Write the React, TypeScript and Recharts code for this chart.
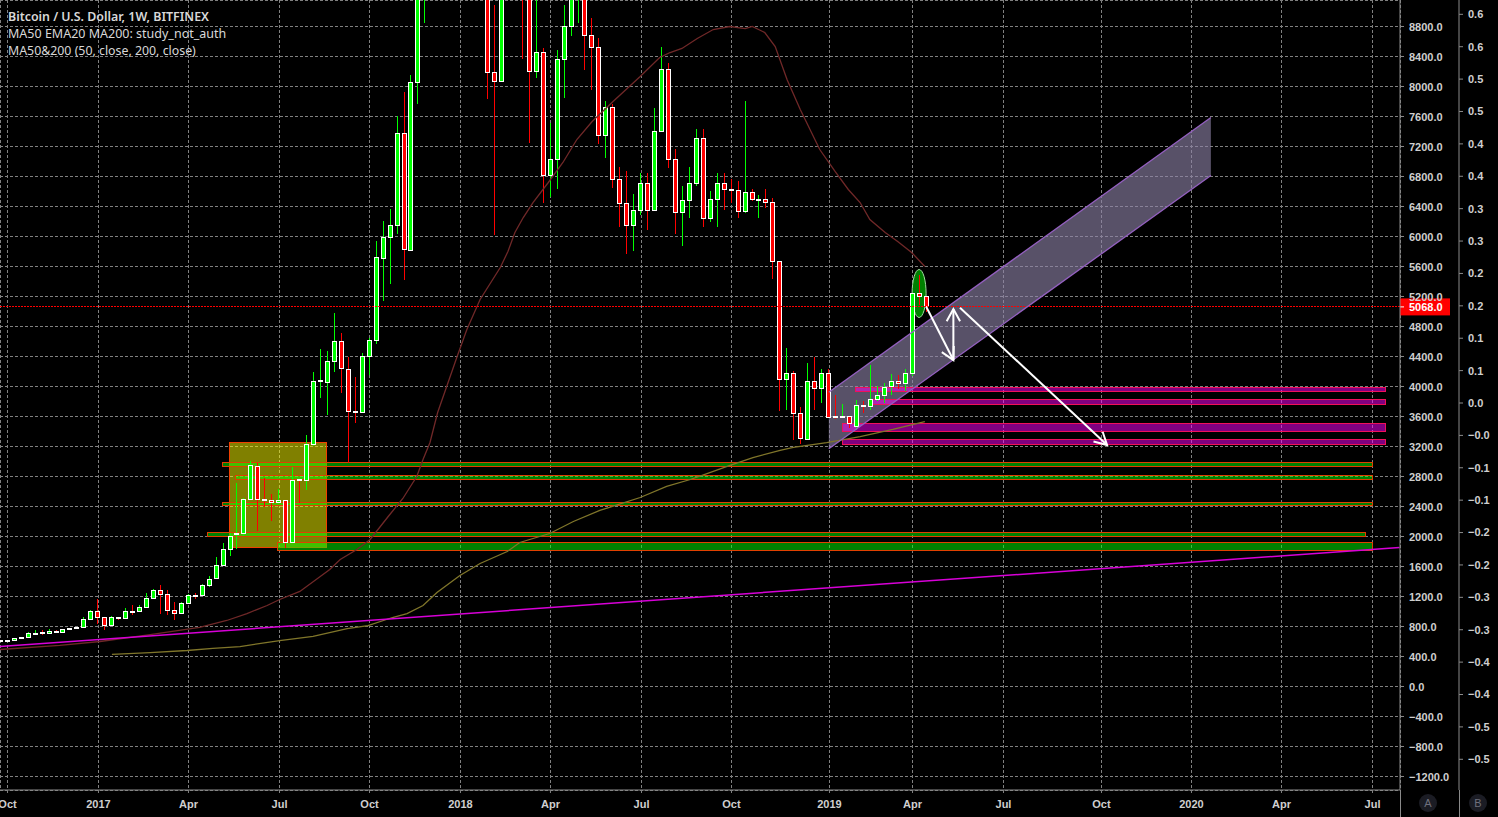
import * as React from "react"
import {
  Area,
  Bar,
  CartesianGrid,
  ComposedChart,
  Line,
  ReferenceArea,
  ReferenceLine,
  XAxis,
  YAxis,
} from "recharts"

// weekly candles, week 0 is the first week of 2017
const firstWeek = -14
const opens = [
  610, 615, 625, 650, 658, 716, 720, 711, 740, 724, 775, 790, 791, 898,
  1009, 929, 818, 925, 911, 1012, 1004, 1058, 1178, 1289, 1231, 1022, 978, 1111, 1224, 1218,
  1351, 1444, 1618, 1831, 2036, 2040, 2498, 2938, 2502, 2489, 2458, 2489, 1920, 2760, 2756, 3236,
  4076, 4062, 4342, 4609, 4236, 3672, 3662, 4409, 4622, 5716, 5996, 6151, 7382, 5818, 8058, 9800,
  11600, 15200, 19000, 14000, 16000, 13800, 14000, 13000, 11000, 8196, 8071, 10200, 11100, 10200,
  9500, 8204, 8462, 6818, 7036, 8369, 8809, 9300, 9700, 8689, 8529, 7351, 7729, 6769, 6449, 6151,
  6356, 6716, 6356, 7404, 8236, 7031, 6329, 6489, 6716, 7316, 6249, 6502, 6716, 6631, 6618, 6342,
  6596, 6498, 6502, 6462, 5676, 4098, 4182, 3649, 3302, 4076, 3978, 4182, 3600, 3600, 3605, 3476,
  3751, 3738, 3836, 3885, 4005, 4076, 4040, 4182, 5249, 5209,
]
const highs = [
  615, 622, 650, 662, 733, 755, 755, 773, 755, 769, 782, 795, 929, 1015,
  1173, 929, 935, 933, 1049, 1093, 1080, 1240, 1302, 1347, 1280, 1129, 1129, 1236, 1249, 1369,
  1467, 1720, 1916, 2050, 2707, 2515, 3009, 2980, 2782, 2569, 2636, 2492, 2929, 2765, 3347, 4196,
  4502, 4476, 4982, 4707, 4396, 4129, 4440, 4640, 5934, 6213, 6360, 7613, 7920, 8147, 9900, 11900,
  15800, 19800, 19600, 17200, 17300, 15500, 14700, 13200, 11300, 9093, 10400, 11400, 11800, 11100,
  9800, 9400, 8516, 7516, 8480, 9080, 9500, 9900, 9950, 8907, 8653, 7800, 7773, 6920, 6867, 6560,
  6849, 6840, 7707, 8520, 8316, 7169, 6667, 6920, 7436, 7427, 6613, 6849, 6840, 6760, 6742, 7800,
  6636, 6547, 6627, 6516, 5676, 4507, 4200, 3720, 4307, 4396, 4227, 4227, 3893, 3760, 3605, 3818,
  3800, 4293, 4000, 4049, 4173, 4156, 4227, 5249, 5493, 5209,
]
const lows = [
  608, 612, 622, 648, 655, 693, 693, 705, 735, 724, 772, 785, 785, 898,
  827, 747, 815, 893, 905, 947, 991, 1050, 1175, 973, 947, 893, 975, 1108, 1173, 1215,
  1333, 1440, 1618, 1738, 1827, 2013, 2495, 2067, 2396, 2213, 2455, 1849, 1915, 2449, 2618, 3204,
  3844, 3618, 4191, 3916, 2982, 3516, 3655, 4147, 4560, 5138, 5373, 6027, 5414, 5805, 7773, 8840,
  11000, 14500, 13100, 12500, 12800, 12800, 10000, 9300, 7827, 6018, 8071, 9600, 9700, 8360,
  7249, 8107, 6440, 6525, 6627, 7840, 8671, 8849, 8218, 7951, 7227, 7053, 6640, 6120, 5773, 5805,
  6293, 6093, 6356, 7391, 6907, 6027, 5871, 6244, 6671, 6133, 6191, 6124, 6351, 6449, 6244, 6307,
  6471, 6253, 6378, 5436, 3671, 3693, 3293, 3227, 3302, 3693, 3782, 3591, 3560, 3598, 3444, 3418,
  3640, 3693, 3800, 3782, 3880, 3960, 3942, 4138, 5090, 4991,
]
const closes = [
  615, 618, 645, 660, 716, 718, 716, 742, 738, 769, 778, 793, 902, 1009,
  924, 818, 929, 920, 1009, 1005, 1062, 1182, 1289, 1231, 1018, 978, 1116, 1222, 1218, 1356,
  1436, 1622, 1836, 2004, 2049, 2502, 2956, 2498, 2489, 2458, 2489, 1920, 2756, 2750, 3236, 4076,
  4082, 4342, 4609, 4249, 3676, 3660, 4404, 4618, 5729, 5996, 6151, 7382, 5827, 8058, 9800, 11600,
  15200, 19000, 14000, 16000, 13800, 14000, 13000, 11000, 8196, 8071, 10200, 11100, 10200, 9500,
  8204, 8462, 6818, 7036, 8369, 8809, 9300, 9700, 8684, 8524, 7351, 7729, 6764, 6444, 6151, 6356,
  6716, 6356, 7409, 8236, 7031, 6329, 6489, 6716, 7316, 6249, 6502, 6716, 6636, 6620, 6342, 6591,
  6502, 6502, 6462, 5671, 4098, 4182, 3649, 3316, 4076, 3978, 4182, 3591, 3598, 3605, 3516, 3756,
  3750, 3836, 3889, 3987, 4076, 4044, 4182, 5249, 5209, 5071,
]

const ma50Weeks = [
  -14, -5.4, 0.4, 7.6, 14.7, 18.6, 21.5, 24.4, 26.2, 29.1, 33.4, 34.9, 37.3, 39.2, 41.8, 43.9, 45.9, 46.8, 47.8, 48.9,
  50.4, 51.7, 53.1, 55, 57.9, 59, 60, 61.2, 62.6, 64.8, 66.9, 68.9, 71.1, 74.1, 78, 80.8, 82.3, 84, 86.2, 88.5,
  90.9, 93.1, 94.1, 95.9, 97.4, 99.1, 101, 103.8, 106, 107.9, 109.6, 111, 113.2, 115, 117, 118.9,
]
const ma50Values = [
  493, 547, 600, 693, 787, 880, 973, 1080, 1160, 1267, 1560, 1693, 1827, 1960, 2267, 2507, 2800, 3027, 3253, 3653,
  4053, 4400, 4760, 5160, 5587, 5800, 6053, 6253, 6453, 6720, 6987, 7293, 7533, 7800, 8133, 8387, 8453, 8507, 8640, 8760,
  8800, 8773, 8800, 8720, 8533, 8093, 7693, 7160, 6867, 6627, 6453, 6227, 6053, 5933, 5787, 5600,
]
const ma200Weeks = [
  2.1, 7.6, 12.9, 16.6, 20.5, 26.2, 31, 35.9, 38.9, 42.4, 44.5, 46.8, 48.8, 52.1, 55, 58.9,
  60.7, 65, 68.4, 72.2, 78, 81.8, 85.2, 88, 90.9, 94.2, 98.1, 100, 104.8, 109.6, 114.3, 118.9,
]
const ma200Values = [
  427, 453, 480, 507, 533, 613, 667, 773, 813, 920, 973, 1080, 1253, 1480, 1640, 1800,
  1920, 2040, 2200, 2347, 2520, 2667, 2760, 2853, 2947, 3053, 3147, 3187, 3253, 3333, 3427, 3533,
]

const trendWeeks = [-13.98, 187.1]
const trendValues = [533, 1853]

const channelWeeks = [105.1, 160]
const channelHigh = [3924, 7587]
const channelLow = [3169, 6813]

const yellowBox = { from: 18.97, to: 32.96, top: 3256, bottom: 1856 }
const greenFrom = [17.92, 19.9, 17.92, 15.9, 25.95]
const greenTo = [183.15, 183.15, 183.15, 182.15, 183.15]
const greenTop = [2980, 2816, 2447, 2056, 1923]
const greenBottom = [2931, 2763, 2407, 2003, 1816]
const purpleFrom = [109, 111, 107, 107]
const purpleTop = [3989, 3829, 3509, 3296]
const purpleBottom = [3927, 3757, 3403, 3224]
const purpleEnd = 185.1

const arrowFromWeek = [119.1, 123, 123.95]
const arrowFromPrice = [5064, 4353, 5051]
const arrowToWeek = [123, 123, 145.08]
const arrowToPrice = [4353, 5033, 3220]

// the ellipse drawn around the last candles
const ellipseWeek = 118
const ellipseTop = 5560
const ellipseBottom = 4920
const lastPrice = 5068

const timeTicks = [
  -12.9, 0.17, 13.1, 26.18, 39.11, 52.18, 65.11, 78.19, 91.12, 105.2, 117.13, 130.2, 144.28, 157.21, 170.14, 183.22,
]
const timeLabels = ["Oct", "2017", "Apr", "Jul", "Oct", "2018", "Apr", "Jul", "Oct", "2019", "Apr", "Jul", "Oct", "2020", "Apr", "Jul"]
const priceTicks = [
  -1200, -800, -400, 0, 400, 800, 1200, 1600, 2000, 2400, 2800, 3200, 3600, 4000, 4400, 4800, 5200, 5600, 6000, 6400,
  6800, 7200, 7600, 8000, 8400, 8800,
]
const ratioTicks = [
  0.6, 0.55, 0.5, 0.45, 0.4, 0.35, 0.3, 0.25, 0.2, 0.15, 0.1, 0.05, 0, -0.05, -0.1, -0.15, -0.2, -0.25, -0.3, -0.35, -0.4,
  -0.45, -0.5, -0.55,
]
const ratioLabels = [
  "0.6", "0.6", "0.5", "0.5", "0.4", "0.4", "0.3", "0.3", "0.2", "0.2", "0.1", "0.1", "0.0", "−0.0", "−0.1", "−0.1", "−0.2",
  "−0.2", "−0.3", "−0.3", "−0.4", "−0.4", "−0.5", "−0.5",
]
const titleLines = ["Bitcoin / U.S. Dollar, 1W, BITFINEX", "MA50 EMA20 MA200: study_not_auth", "MA50&200 (50, close, 200, close)"]
const titleSizes = [12.4, 12.5, 12.35]

const candles = opens.map((open, i) => ({
  week: firstWeek + i,
  open,
  high: highs[i],
  low: lows[i],
  close: closes[i],
  range: [lows[i], highs[i]],
  mark: firstWeek + i === ellipseWeek ? [ellipseBottom, ellipseTop] : [ellipseTop, ellipseTop],
}))
const ma50 = ma50Weeks.map((week, i) => ({ week, value: ma50Values[i] }))
const ma200 = ma200Weeks.map((week, i) => ({ week, value: ma200Values[i] }))
const trend = trendWeeks.map((week, i) => ({ week, value: trendValues[i] }))
const channel = channelWeeks.map((week, i) => ({ week, band: [channelLow[i], channelHigh[i]] }))
const channelTop = channelWeeks.map((week, i) => ({ week, value: channelHigh[i] }))
const channelBottom = channelWeeks.map((week, i) => ({ week, value: channelLow[i] }))

const weekDomain: [number, number] = [-13.98, 187.17]
const axisColor = "#8a8a8a"
const gridColor = "#808080"
const tickFont = { fill: "#cfcfcf", fontSize: 11, fontFamily: "Liberation Sans", fontWeight: 700 }

function Candle(props: any) {
  const { x, y, width, height, payload } = props
  const k = Math.abs(height) / (payload.high - payload.low)
  const toY = (v: number) => y + (payload.high - v) * k
  const cx = Math.round(x + width / 2)
  const top = Math.round(toY(Math.max(payload.open, payload.close)))
  const bottom = Math.round(toY(Math.min(payload.open, payload.close)))
  const color = payload.close >= payload.open ? "#00ff00" : "#ff0000"
  return (
    <g shapeRendering="crispEdges">
      <line x1={cx + 0.5} x2={cx + 0.5} y1={y} y2={y + Math.abs(height)} stroke={color} />
      <rect x={cx - 1.5} y={top + 0.5} width={4} height={Math.max(bottom - top, 1)} fill={color} stroke="#ffffff" />
    </g>
  )
}

function Arrow(props: any) {
  const { x1, y1, x2, y2 } = props
  const angle = Math.atan2(y2 - y1, x2 - x1)
  const wing = (side: number) => ({
    x: x2 - 14 * Math.cos(angle + side * 0.5),
    y: y2 - 14 * Math.sin(angle + side * 0.5),
  })
  const a = wing(1)
  const b = wing(-1)
  return (
    <g stroke="#ffffff" strokeWidth={2} fill="none">
      <line x1={x1} y1={y1} x2={x2} y2={y2} />
      <polyline points={`${a.x},${a.y} ${x2},${y2} ${b.x},${b.y}`} />
    </g>
  )
}

function EllipseMark(props: any) {
  const { x, y, width, height, payload } = props
  if (payload.week !== ellipseWeek) return null
  return (
    <ellipse
      cx={x + width / 2 + 0.5}
      cy={y + Math.abs(height) / 2}
      rx={7}
      ry={Math.abs(height) / 2}
      fill="#008000"
      stroke="#9fdc9f"
      strokeWidth={1}
    />
  )
}

function PriceTag(props: any) {
  const { viewBox } = props
  const x = viewBox.x + viewBox.width
  return (
    <g>
      <rect x={x} y={viewBox.y - 8} width={50} height={17} fill="#ff0000" />
      <line x1={x} x2={x + 4} y1={viewBox.y + 0.5} y2={viewBox.y + 0.5} stroke="#ffffff" />
      <text x={x + 9} y={viewBox.y + 4.5} fill="#ffffff" fontSize={11} fontFamily="Liberation Sans" fontWeight={700}>
        {lastPrice.toFixed(1)}
      </text>
    </g>
  )
}

const formatPrice = (v: number) => (v < 0 ? "−" + Math.abs(v).toFixed(1) : v.toFixed(1))
const formatRatio = (v: number) => ratioLabels[ratioTicks.indexOf(v)] ?? ""
const formatTime = (v: number) => timeLabels[timeTicks.indexOf(v)] ?? ""

export default function App() {
  return (
    <div style={{ position: "fixed", left: 0, top: 0, width: 1498, height: 817, background: "#000", overflow: "hidden" }}>
      <ComposedChart width={1498} height={817} data={candles} margin={{ top: 0, right: 0, bottom: 0, left: 0 }}>
        <CartesianGrid stroke={gridColor} strokeDasharray="3 2" shapeRendering="crispEdges" />
        <XAxis
          dataKey="week"
          type="number"
          domain={weekDomain}
          allowDataOverflow
          ticks={timeTicks}
          interval={0}
          tickFormatter={formatTime}
          height={27}
          tick={tickFont}
          tickSize={3}
          tickMargin={7}
          stroke={axisColor}
          tickLine={{ stroke: gridColor }}
        />
        <XAxis xAxisId="marks" dataKey="week" type="number" domain={weekDomain} allowDataOverflow hide />
        <YAxis
          orientation="right"
          type="number"
          domain={[-1380, 9153.3]}
          allowDataOverflow
          ticks={priceTicks}
          interval={0}
          tickFormatter={formatPrice}
          width={59}
          tick={{ ...tickFont, textAnchor: "start", dy: 1 }}
          tickSize={4}
          tickMargin={5}
          stroke={axisColor}
        />
        <YAxis
          yAxisId="ratio"
          orientation="right"
          type="number"
          domain={[-0.5974, 0.6221]}
          allowDataOverflow
          ticks={ratioTicks}
          interval={0}
          tickFormatter={formatRatio}
          width={39}
          tick={{ ...tickFont, textAnchor: "start" }}
          tickSize={4}
          tickMargin={5}
          stroke={axisColor}
        />
        <ReferenceArea
          x1={yellowBox.from}
          x2={yellowBox.to}
          y1={yellowBox.bottom}
          y2={yellowBox.top}
          fill="#ffff00"
          fillOpacity={0.5}
          stroke="#f04000"
          shapeRendering="crispEdges"
        />
        <Bar xAxisId="marks" dataKey="mark" barSize={5} shape={EllipseMark} isAnimationActive={false} />
        <Bar dataKey="range" barSize={5} shape={Candle} isAnimationActive={false} />
        <Line data={ma50} dataKey="value" stroke="#702828" strokeWidth={1.3} dot={false} isAnimationActive={false} />
        <Line data={ma200} dataKey="value" stroke="#80762a" strokeWidth={1.3} dot={false} isAnimationActive={false} />
        <Line data={trend} dataKey="value" stroke="#d800d8" strokeWidth={1.5} dot={false} isAnimationActive={false} />
        <ReferenceLine y={lastPrice} stroke="#ff0000" strokeDasharray="2 1" shapeRendering="crispEdges" label={PriceTag} />
        <Area
          data={channel}
          dataKey="band"
          type="linear"
          fill="#8e83a8"
          fillOpacity={0.62}
          stroke="none"
          dot={false}
          isAnimationActive={false}
        />
        <Line data={channelTop} dataKey="value" stroke="#9460c0" strokeWidth={1.3} dot={false} isAnimationActive={false} />
        <Line data={channelBottom} dataKey="value" stroke="#9460c0" strokeWidth={1.3} dot={false} isAnimationActive={false} />
        {greenTop.map((top, i) => (
          <ReferenceArea
            key={`green-${i}`}
            x1={greenFrom[i]}
            x2={greenTo[i]}
            y1={greenBottom[i]}
            y2={top}
            fill="#00ff00"
            fillOpacity={0.5}
            stroke="#e04000"
            shapeRendering="crispEdges"
          />
        ))}
        {purpleTop.map((top, i) => (
          <ReferenceArea
            key={`purple-${i}`}
            x1={purpleFrom[i]}
            x2={purpleEnd}
            y1={purpleBottom[i]}
            y2={top}
            fill="#ff00ff"
            fillOpacity={0.5}
            stroke="#f0105a"
            shapeRendering="crispEdges"
          />
        ))}
        {arrowFromWeek.map((week, i) => (
          <ReferenceLine
            key={`arrow-${i}`}
            segment={[
              { x: week, y: arrowFromPrice[i] },
              { x: arrowToWeek[i], y: arrowToPrice[i] },
            ]}
            shape={Arrow}
          />
        ))}
      </ComposedChart>

      <div style={{ position: "absolute", left: 8, top: 8, color: "#d8d8d8", fontFamily: "Noto Sans", lineHeight: "17px" }}>
        {titleLines.map((line, i) => (
          <div key={line} style={{ fontWeight: i === 0 ? 600 : 400, fontSize: titleSizes[i] }}>
            {line}
          </div>
        ))}
      </div>
      <div style={{ position: "absolute", left: 1400, top: 790, width: 1, height: 27, background: axisColor }} />
      <div style={{ position: "absolute", left: 1459, top: 790, width: 1, height: 27, background: axisColor }} />
      {["A", "B"].map((letter, i) => (
        <div
          key={letter}
          style={{
            position: "absolute",
            left: 1419 + i * 50,
            top: 794,
            width: 18,
            height: 18,
            borderRadius: 9,
            background: "#1b1c24",
            color: "#6f707c",
            fontFamily: "Liberation Sans",
            fontSize: 11,
            lineHeight: "18px",
            textAlign: "center",
          }}
        >
          {letter}
        </div>
      ))}
    </div>
  )
}
